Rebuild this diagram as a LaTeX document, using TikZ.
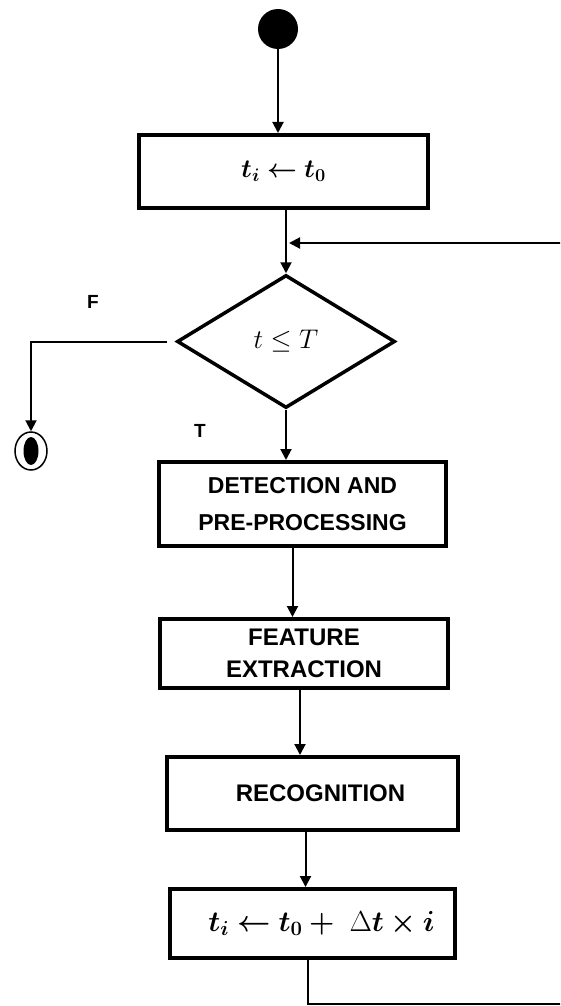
\RequirePackage{fix-cm}
\documentclass[tikz,border=0pt]{standalone}
\usepackage{amsmath,amssymb,bm}
\usepackage{fontspec}
\newfontfamily\arialf{Liberation Sans}
\usetikzlibrary{shapes.geometric,arrows.meta,calc}
\begin{document}
\begin{tikzpicture}[x=1pt,y=-1pt,
  arr/.style={line width=2pt,-{Triangle[length=11pt,width=11pt]}},
  box/.style={draw,line width=4pt,rectangle,inner sep=0pt,align=center},
  sans/.style={font=\arialf\bfseries\fontsize{23}{37}\selectfont},
  lbl/.style={font=\arialf\bfseries\fontsize{19}{21}\selectfont}]
\useasboundingbox (0,0) rectangle (560,1006);
\clip (0,0) rectangle (560,1006);
\node[circle,fill=black,minimum size=40pt,inner sep=0pt] (start) at (278,29) {};
\node[box,minimum width=289pt,minimum height=73pt,font=\fontsize{26}{30}\selectfont] (b1) at (283.5,171.5) {$\bm{t_i \leftarrow t_0}$};
\node[diamond,draw,line width=3.5pt,minimum width=218pt,minimum height=133pt,inner sep=0pt,aspect=1.64,font=\fontsize{27}{30}\selectfont] (dia) at (286,341.5) {$t \leq T$};
\node[box,sans,minimum width=287pt,minimum height=84pt] (b2) at (302.5,504) {DETECTION AND\\PRE-PROCESSING};
\node[box,font=\arialf\bfseries\fontsize{24}{32}\selectfont,minimum width=288pt,minimum height=69pt] (b3) at (304,653.5) {FEATURE\\EXTRACTION};
\node[box,font=\arialf\bfseries\fontsize{24}{30}\selectfont,minimum width=291pt,minimum height=73pt] (b4) at (312.5,793.5) {\hspace*{16pt}RECOGNITION};
\node[box,minimum width=285pt,minimum height=69pt,font=\fontsize{29}{34}\selectfont] (b5) at (312.5,923.5) {\hspace*{18pt}$\bm{t_i \leftarrow t_0 +}\ \Delta\bm{t \times i}$};
\node[ellipse,draw,line width=1.5pt,fill=white,minimum width=32pt,minimum height=38pt,inner sep=0pt] (end) at (31,451) {};
\node[ellipse,fill=black,minimum width=15pt,minimum height=28pt,inner sep=0pt] (endin) at (end.center) {};
\node[lbl] (F) at (93,302) {F};
\node[lbl] (T) at (200,431) {T};
\coordinate (join) at (dia.north |- 0,243);
\coordinate (loopB) at (565,1004);
\draw[arr] (start.south) -- (start.south |- b1.north);
\draw[arr] (b1.south -| dia.north) -- (dia.north);
\draw[arr] ([xshift=-8pt]dia.west) -| (end.north);
\draw[arr] (dia.south) -- (dia.south |- b2.north);
\draw[arr] ([xshift=-10pt]b2.south) -- ([xshift=-10pt]b2.south |- b3.north);
\draw[arr] ([xshift=-4pt]b3.south) -- ([xshift=-4pt]b3.south |- b4.north);
\draw[arr] ([xshift=-7pt]b4.south) -- ([xshift=-7pt]b4.south |- b5.north);
\draw[arr] ([xshift=-5pt]b5.south) |- (loopB) |- ([xshift=3pt]join);
\end{tikzpicture}
\end{document}
